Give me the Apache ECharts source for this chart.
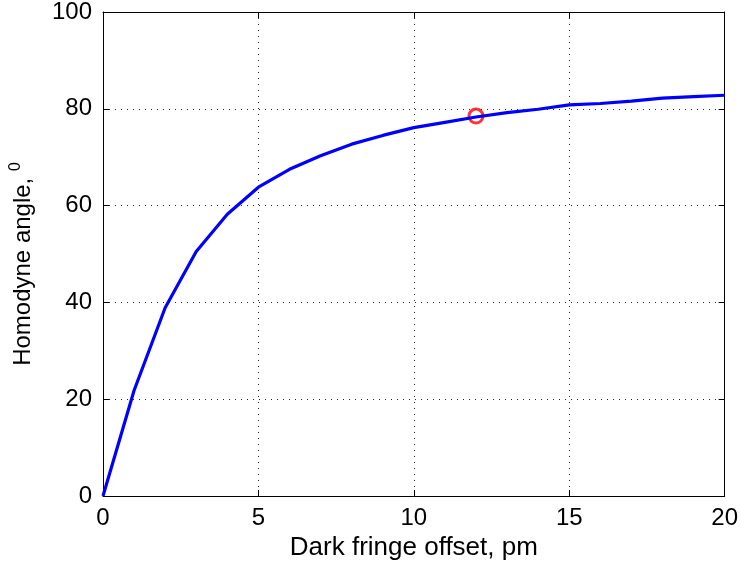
<!DOCTYPE html>
<html>
<head>
<meta charset="utf-8">
<script src="https://cdn.jsdelivr.net/npm/echarts@6/dist/echarts.min.js"></script>
<style>html,body{margin:0;padding:0;background:#fff}#c{width:741px;height:568px}</style>
</head>
<body>
<div id="c"></div>
<script>
const xValues = [0,1,2,3,4,5,6,7,8,9,10,11,12,13,14,15,16,17,18,19,20];
const angleValues = [0,21.8,38.9,50.5,58.2,63.8,67.5,70.3,72.7,74.5,76.1,77.2,78.3,79.2,79.9,80.8,81.1,81.6,82.2,82.5,82.8];
const markerPoint = [12, 78.5];
const xTicks = [0,5,10,15,20];
const yTicks = [0,20,40,60,80,100];

const chart = echarts.init(document.getElementById('c'), null, {renderer:'canvas'});
const font = 'Liberation Sans, Arial, Helvetica, sans-serif';
function tick(){ return {show:true, inside:true, length:6, lineStyle:{color:'#000', width:1}}; }
function grid(){ return {show:true, lineStyle:{color:'#000', type:[1,5], width:1, opacity:0.85}}; }
function line(){ return {show:true, onZero:false, lineStyle:{color:'#000', width:1}}; }
chart.setOption({
  animation:false,
  grid:{left:103, right:15, top:10, bottom:72, containLabel:false},
  xAxis:[{
    type:'value', min:xTicks[0], max:xTicks[xTicks.length-1], interval:xTicks[1]-xTicks[0],
    axisLine:line(), axisTick:tick(),
    axisLabel:{color:'#000', fontSize:24, fontFamily:font, margin:10},
    splitLine:grid(),
    name:'Dark fringe offset, pm', nameLocation:'middle', nameGap:33,
    nameTextStyle:{color:'#000', fontSize:26, fontFamily:font}
  },{
    type:'value', min:xTicks[0], max:xTicks[xTicks.length-1], interval:xTicks[1]-xTicks[0], position:'top',
    axisLine:line(), axisTick:tick(), axisLabel:{show:false}, splitLine:{show:false}
  }],
  yAxis:[{
    type:'value', min:yTicks[0], max:yTicks[yTicks.length-1], interval:yTicks[1]-yTicks[0],
    axisLine:line(), axisTick:tick(),
    axisLabel:{color:'#000', fontSize:24, fontFamily:font, margin:11},
    splitLine:grid(),
    name:'{a|Homodyne angle, }{s|0}', nameLocation:'middle', nameGap:64,
    nameTextStyle:{
      color:'#000', fontFamily:font, padding:[0,20,0,0],
      rich:{
        a:{fontSize:24, fontFamily:font, color:'#000'},
        s:{fontSize:16, fontFamily:font, color:'#000', padding:[0,0,15,0]}
      }
    }
  },{
    type:'value', min:yTicks[0], max:yTicks[yTicks.length-1], interval:yTicks[1]-yTicks[0], position:'right',
    axisLine:line(), axisTick:tick(), axisLabel:{show:false}, splitLine:{show:false}
  }],
  series:[{
    type:'line', xAxisIndex:0, yAxisIndex:0,
    data:xValues.map((x,i)=>[x, angleValues[i]]),
    showSymbol:false, lineStyle:{color:'#0000ff', width:3.2}, itemStyle:{color:'#0000ff'}
  },{
    type:'scatter', xAxisIndex:0, yAxisIndex:0,
    data:[markerPoint], symbol:'circle', symbolSize:14,
    itemStyle:{color:'rgba(0,0,0,0)', borderColor:'#ff0000', borderWidth:3}
  }]
});
</script>
</body>
</html>
